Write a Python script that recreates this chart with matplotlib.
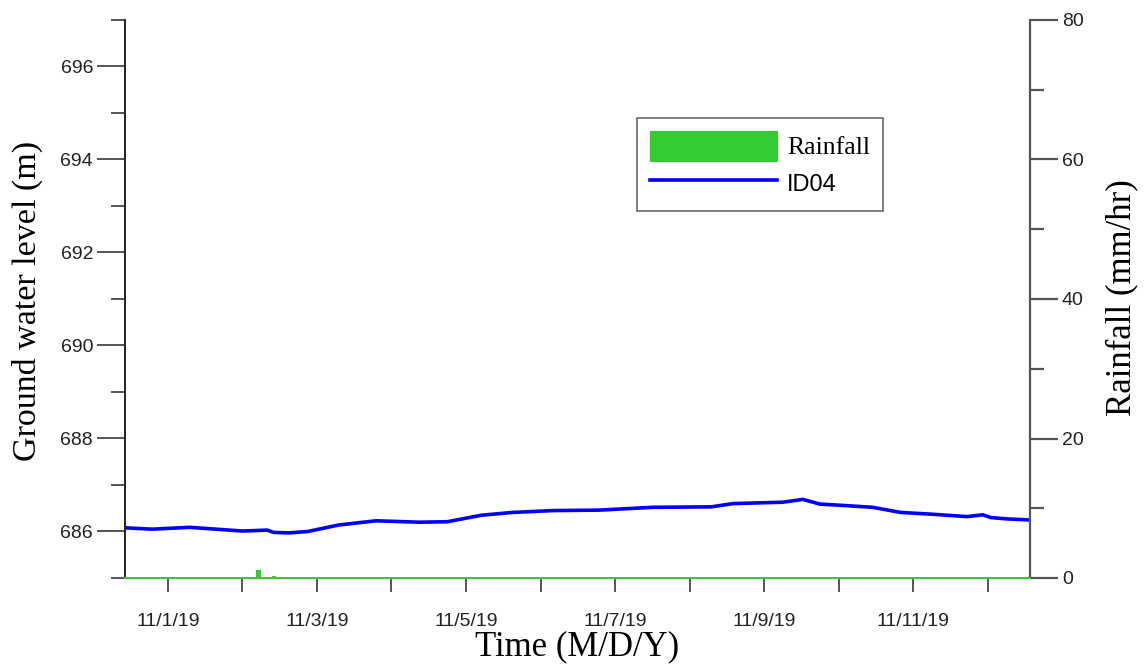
import matplotlib
matplotlib.use("Agg")
import matplotlib.pyplot as plt
import matplotlib.dates as mdates
from matplotlib.ticker import MultipleLocator
import pandas as pd

# groundwater level at ID04 (m)
gw_times = ['2019-10-31 10:00', '2019-10-31 19:00', '2019-11-01 07:00', '2019-11-02 00:00',
            '2019-11-02 08:00', '2019-11-02 10:00', '2019-11-02 15:00', '2019-11-02 21:00',
            '2019-11-03 07:00', '2019-11-03 19:00', '2019-11-04 09:00', '2019-11-04 18:00',
            '2019-11-05 05:00', '2019-11-05 15:00', '2019-11-06 04:00', '2019-11-06 19:00',
            '2019-11-07 12:00', '2019-11-08 07:00', '2019-11-08 14:00', '2019-11-09 06:00',
            '2019-11-09 12:30', '2019-11-09 18:00', '2019-11-10 01:30', '2019-11-10 11:00',
            '2019-11-10 20:00', '2019-11-11 06:30', '2019-11-11 17:30', '2019-11-11 22:30',
            '2019-11-12 01:00', '2019-11-12 06:30', '2019-11-12 13:00']
gw_level = [686.08, 686.05, 686.09, 686.01, 686.03, 685.98, 685.97, 686.00,
            686.14, 686.23, 686.20, 686.21, 686.35, 686.41, 686.45, 686.46,
            686.52, 686.53, 686.60, 686.63, 686.69, 686.59, 686.56, 686.52,
            686.41, 686.37, 686.32, 686.36, 686.30, 686.27, 686.25]

# hourly rainfall (mm/hr), only the short event on 11/2
rain_times = ['2019-10-31 10:00', '2019-11-02 04:00', '2019-11-02 05:00', '2019-11-02 06:00',
              '2019-11-02 09:00', '2019-11-02 10:00', '2019-11-02 11:00', '2019-11-12 13:00']
rain_vals = [0, 0, 1.1, 0, 0, 0.3, 0, 0]

xticks = ['2019-11-01', '2019-11-03', '2019-11-05', '2019-11-07', '2019-11-09', '2019-11-11']
xtick_labels = ['11/1/19', '11/3/19', '11/5/19', '11/7/19', '11/9/19', '11/11/19']

serif = 'Liberation Serif'
sans = 'Liberation Sans'

fig = plt.figure(figsize=(11.45, 6.69), dpi=100)
ax = fig.add_axes([125/1145, 91/669, 905/1145, 558/669])
ax2 = ax.twinx()

t = pd.to_datetime(gw_times)
line, = ax.plot(t, gw_level, color='#0000ff', lw=2.6, label='ID04', zorder=3)
rt = pd.to_datetime(rain_times)
rain = ax2.fill_between(rt, 0, rain_vals, step='mid', color='#33cc33', lw=0.8, label='Rainfall')

ax.set_xlim(pd.Timestamp('2019-10-31 10:10'), pd.Timestamp('2019-11-12 13:40'))
ax.set_ylim(685, 697)
ax2.set_ylim(0, 80)

ax.set_xticks(pd.to_datetime(xticks))
ax.set_xticklabels(xtick_labels)
ax.xaxis.set_minor_locator(mdates.DayLocator())
ax.set_yticks([686, 688, 690, 692, 694, 696])
ax.yaxis.set_minor_locator(MultipleLocator(1))
ax2.yaxis.set_major_locator(MultipleLocator(20))
ax2.yaxis.set_minor_locator(MultipleLocator(10))

for a in (ax, ax2):
    a.spines['top'].set_visible(False)
    a.spines['bottom'].set_color('#33cc33')
    a.spines['bottom'].set_linewidth(1.3)
ax.spines['right'].set_visible(False)
ax2.spines['left'].set_visible(False)
ax.spines['left'].set_color('#222222')
ax.spines['left'].set_linewidth(1.4)
ax2.spines['right'].set_color('#555555')
ax2.spines['right'].set_linewidth(1.6)

ax.tick_params(axis='x', which='both', direction='out', length=10, width=1.4,
               color='#555555', labelsize=14, labelcolor='#222222', pad=15)
ax.tick_params(axis='y', which='major', direction='out', length=20, width=1.4,
               color='#555555', labelsize=14, labelcolor='#222222', pad=3)
ax.tick_params(axis='y', which='minor', direction='out', length=10, width=1.4, color='#555555')
ax2.tick_params(axis='y', which='major', direction='out', length=20, width=1.6,
                color='#555555', labelsize=14, labelcolor='#222222', pad=3)
ax2.tick_params(axis='y', which='minor', direction='out', length=10, width=1.6, color='#555555')
for lab in ax.get_xticklabels() + ax.get_yticklabels() + ax2.get_yticklabels():
    lab.set_family(sans)

fig.text(27/1145, 1 - 301/669, 'Ground water level (m)', rotation=90, ha='center', va='center',
         family=serif, fontsize=24.5)
fig.text(1122/1145, 1 - 298/669, 'Rainfall (mm/hr)', rotation=90, ha='center', va='center',
         family=serif, fontsize=25)
fig.text(577/1145, 1 - 647/669, 'Time (M/D/Y)', ha='center', va='center',
         family=serif, fontsize=25)

leg = ax2.legend([rain, line], ['Rainfall', 'ID04'], loc='upper left',
                 bbox_to_anchor=(637/1145, 1 - 118/669), bbox_transform=fig.transFigure,
                 borderaxespad=0, fancybox=False, fontsize=17, handlelength=5.4,
                 handleheight=1.55, handletextpad=0.4, borderpad=0.55, labelspacing=0.35)
leg.get_frame().set_edgecolor('#444444')
leg.get_frame().set_linewidth(1.2)
texts = leg.get_texts()
texts[0].set_family(serif)
texts[0].set_fontsize(18.5)
texts[1].set_family(sans)

fig.savefig('out.png', dpi=100)
